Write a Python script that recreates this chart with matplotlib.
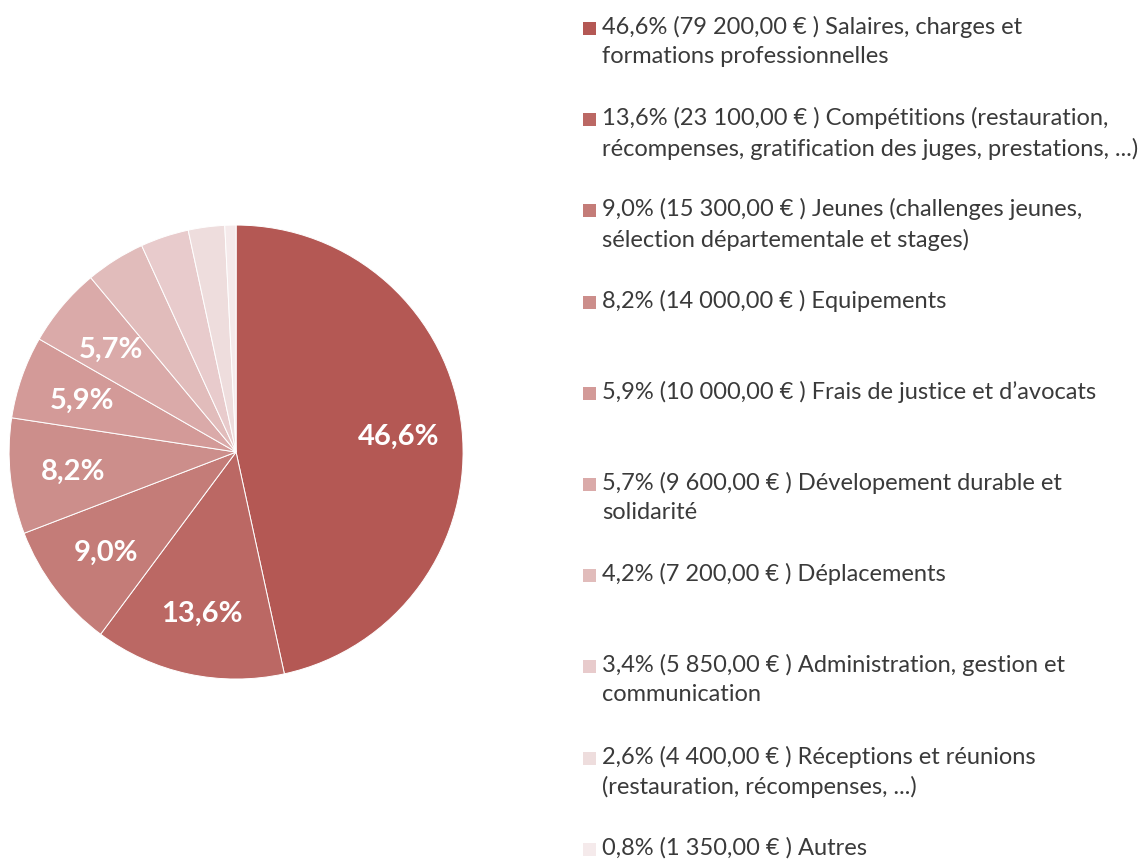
import matplotlib.pyplot as plt
from matplotlib.patches import Rectangle

plt.rcParams['font.family'] = ['Lato', 'DejaVu Sans']

# ========== 数据 ==========
montants = [79200, 23100, 15300, 14000, 10000, 9600, 7200, 5850, 4400, 1350]
pourcents = ['46,6%', '13,6%', '9,0%', '8,2%', '5,9%', '5,7%', '4,2%', '3,4%', '2,6%', '0,8%']
montants_txt = ['79 200,00', '23 100,00', '15 300,00', '14 000,00', '10 000,00',
                '9 600,00', '7 200,00', '5 850,00', '4 400,00', '1 350,00']
postes = [
    'Salaires, charges et\nformations professionnelles',
    'Compétitions (restauration,\nrécompenses, gratification des juges, prestations, ...)',
    'Jeunes (challenges jeunes,\nsélection départementale et stages)',
    'Equipements',
    'Frais de justice et d\u2019avocats',
    'Dévelopement durable et\nsolidarité',
    'Déplacements',
    'Administration, gestion et\ncommunication',
    'Réceptions et réunions\n(restauration, récompenses, ...)',
    'Autres',
]
couleurs = ['#b45854', '#bb6864', '#c47c78', '#cc8e8b', '#d39a98',
            '#daaaa9', '#e1bcbb', '#e8cbcc', '#eedddd', '#f5eaeb']

# ========== 画图 ==========
fig = plt.figure(figsize=(11.41, 8.59), dpi=100)
ax = fig.add_axes([0.0079, 0.2095, 0.398, 0.5285])

# étiquettes affichées seulement pour les parts >= 5 %
etiquettes = iter(pourcents)


def fmt(p):
    lab = next(etiquettes)
    return lab if p >= 5 else ''


wedges, texts, autotexts = ax.pie(
    montants, colors=couleurs, startangle=90, counterclock=False,
    autopct=fmt, pctdistance=0.72, radius=1,
    wedgeprops=dict(edgecolor='white', linewidth=0.7),
    textprops=dict(color='white', fontsize=21, fontweight='bold',
                   va='center_baseline'))
ax.set_xlim(-1, 1)
ax.set_ylim(-1, 1)
ax.set_aspect('equal')

# ========== 图例 ==========
W, H = 1141, 859
y0 = 16
pas = 91.2
for i in range(len(montants)):
    top = y0 + i * pas
    label = '{} ({} € ) {}'.format(pourcents[i], montants_txt[i], postes[i])
    fig.text(602 / W, 1 - top / H, label, ha='left', va='top',
             fontsize=17, color='#3a3a3a', linespacing=1.45)
    fig.patches.append(Rectangle((583 / W, 1 - (top + 19) / H), 13 / W, 13 / H,
                                 transform=fig.transFigure, facecolor=couleurs[i],
                                 edgecolor='none'))

plt.savefig('out.png', dpi=100)
